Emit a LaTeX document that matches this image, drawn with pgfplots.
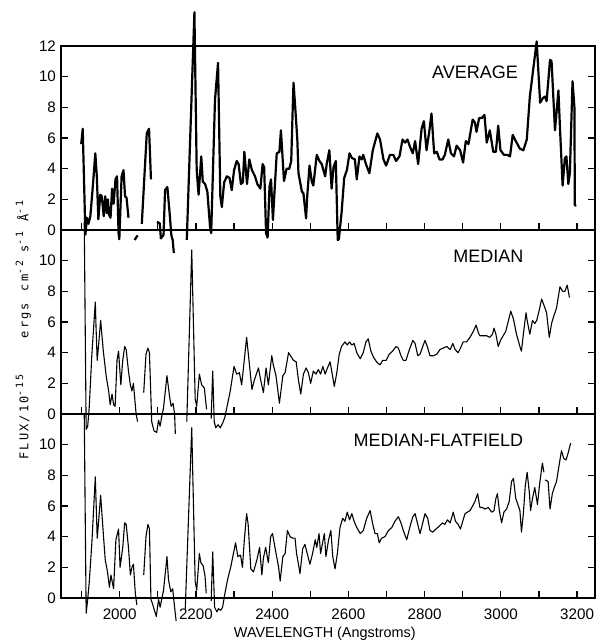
\documentclass[border=0pt]{standalone}
\usepackage{fontspec}
\setmainfont{Liberation Sans}
\newfontfamily\labfont[LetterSpace=18]{DejaVu Sans Mono}
\usepackage{pgfplots}
\pgfplotsset{compat=1.18}

\newcommand\sups[1]{\raisebox{0.8ex}{\fontsize{5}{6}\selectfont #1}}

\pgfplotsset{
  panel/.style={
    scale only axis, width=267pt, height=92pt, anchor=south west,
    xmin=1846, xmax=3247, ymin=0, ymax=12,
    clip=false, unbounded coords=jump,
    xtick={2000,2200,...,3200}, minor xtick={1900,2100,...,3100},
    xtick pos=lower, ytick pos=both, yticklabel pos=left,
    tick align=inside, major tick length=3.5pt, minor tick length=3.5pt,
    every tick/.append style={black, line width=0.6pt},
    every minor tick/.append style={black, line width=0.6pt},
    axis line style={line width=0.7pt},
    tick label style={font=\fontsize{7.6}{9}\selectfont},
    /pgf/number format/assume math mode=true,
    /pgf/number format/1000 sep={},
    yticklabel style={xshift=1pt},
    xticklabel style={yshift=-2pt},
  },
  spec/.style={black, line width=0.55pt, line join=round, mark=none},
}

\begin{document}
\begin{tikzpicture}
\useasboundingbox (0,0) rectangle (298pt,320pt);

% bottom panel: median-flatfield
\begin{axis}[panel, at={(30.5pt,21pt)}, ytick={0,2,...,10},
  xlabel={WAVELENGTH (Angstroms)},
  xlabel style={at={(axis description cs:0.494,0)}, anchor=base, yshift=-19.5pt,
    font=\fontsize{7.2}{9}\selectfont}]
\addplot[spec] coordinates {
(1907,12.0) (1912,-1.0) (1916,-0.1) (1920,1.0) (1927,3.6) (1936,7.9) (1941,3.9)
(1945,5.1) (1950,6.7) (1957,4.2) (1962,2.5) (1968,1.7) (1973,0.7) (1977,1.5)
(1984,0.6) (1990,3.8) (1997,4.5) (2001,2.0) (2008,3.3) (2013,4.9) (2017,4.8)
(2023,3.3) (2028,1.5) (2032,2.0) (2036,2.2) (2041,0.3) (2045,-0.45)
(2050,nan)
(2063,1.5) (2069,4.0) (2074,4.8) (2078,4.5) (2082,-0.1) (2085,-0.3) (2096,-1.2)
(2102,-0.1) (2106,-0.6) (2115,0.5) (2124,2.7) (2128,1.2) (2134,0.4) (2139,0.6)
(2144,-0.6) (2148,-1.5)
(2160,nan)
(2172,-0.7) (2189,11.1) (2198,1.1) (2202,0.5) (2209,2.9) (2213,2.3) (2219,2.1)
(2224,1.4) (2227,0.3)
(2234,nan)
(2240,-0.2) (2244,3.0) (2249,-0.6) (2255,-0.9) (2259,-0.7) (2265,-0.8) (2270,-0.6)
(2276,0.3) (2283,1.2) (2292,2.1) (2304,3.6) (2310,2.7) (2317,2.8) (2322,2.0)
(2327,3.8) (2333,5.5) (2337,4.8) (2344,1.9) (2351,1.7) (2360,2.5) (2367,3.3)
(2373,1.5) (2377,2.6) (2383,3.3) (2390,2.3) (2396,4.0) (2401,4.2) (2408,3.2)
(2417,2.0) (2421,1.1) (2428,2.7) (2434,2.9) (2440,4.4) (2447,4.0) (2454,3.9)
(2460,3.9) (2464,2.9) (2469,2.2) (2473,1.6) (2480,3.2) (2486,3.5) (2492,2.9)
(2499,2.2) (2506,2.9) (2513,3.8) (2517,3.3) (2523,4.2) (2527,2.9) (2533,3.7)
(2537,4.2) (2541,2.7) (2548,3.8) (2554,4.4) (2559,2.7) (2565,1.9) (2571,2.9)
(2578,4.6) (2585,5.2) (2591,5.0) (2597,5.6) (2603,5.1) (2609,5.5) (2615,5.0)
(2622,4.6) (2631,4.2) (2639,4.4) (2648,5.2) (2657,5.7) (2664,4.8) (2670,4.2)
(2676,4.2) (2681,3.6) (2687,3.9) (2696,4.0) (2705,4.4) (2714,4.6) (2722,5.0)
(2731,5.3) (2738,4.9) (2744,4.4) (2753,3.8) (2762,4.7) (2769,5.3) (2775,5.5)
(2782,4.8) (2788,4.2) (2795,4.9) (2801,5.5) (2808,5.2) (2814,4.4) (2821,4.3)
(2830,4.5) (2839,4.7) (2847,4.9) (2853,4.8) (2860,5.1) (2867,4.9) (2875,5.6)
(2881,5.0) (2888,4.8) (2894,4.5) (2900,5.0) (2906,5.5) (2912,5.6) (2919,5.7)
(2926,6.0) (2932,6.3) (2939,6.8) (2945,5.9) (2952,5.9) (2958,5.8) (2967,5.9)
(2976,5.6) (2982,5.7) (2987,6.5) (2991,6.8) (2996,5.7) (3002,4.9) (3008,5.6)
(3015,5.8) (3022,6.3) (3028,7.6) (3033,7.8) (3039,6.5) (3046,6.0) (3050,5.7)
(3054,4.3) (3059,5.5) (3064,7.3) (3069,8.2) (3075,6.8) (3078,5.7) (3083,6.5)
(3089,7.2) (3096,6.1) (3102,7.5) (3109,8.8) (3113,8.2)
(3115,nan)
(3116,7.7) (3124,7.6) (3129,5.8) (3135,6.8) (3140,7.2) (3146,7.6) (3153,8.7)
(3159,9.6) (3165,9.1) (3171,9.0) (3177,9.5) (3183,10.1)
};
\node[font=\fontsize{9}{10}\selectfont] at (axis cs:2836,10.3) {MEDIAN-FLATFIELD};
\end{axis}

% middle panel: median
\begin{axis}[panel, at={(30.5pt,113pt)}, ytick={0,2,...,10}, xticklabels={}]
\addplot[spec] coordinates {
(1907,12.5) (1912,-1.0) (1916,-0.8) (1920,0.4) (1927,3.9) (1936,7.3) (1938,5.6)
(1941,3.5) (1945,4.6) (1950,6.1) (1957,4.1) (1965,2.4) (1971,1.5) (1975,0.6)
(1980,1.3) (1984,0.6) (1988,0.5) (1993,3.5) (1997,4.1) (2003,1.9) (2008,3.5)
(2013,4.4) (2017,4.2) (2023,2.8) (2028,1.9) (2032,1.5) (2036,2.0) (2043,0)
(2047,-0.5)
(2055,nan)
(2063,1.4) (2069,3.9) (2074,4.3) (2078,4.0) (2084,-0.5) (2090,-1.1) (2097,-1.2)
(2102,-0.4) (2106,-0.8) (2110,-0.2) (2115,0.4) (2124,2.5) (2131,1.1) (2135,0.5)
(2140,0.7) (2144,0) (2146,-1.3)
(2160,nan)
(2176,-0.5) (2189,10.7) (2198,1.0) (2202,0.5) (2209,2.6) (2215,1.9) (2222,1.7)
(2228,0.3)
(2234,nan)
(2240,-0.3) (2244,2.8) (2248,-0.5) (2252,-0.9) (2258,-0.7) (2264,-0.9) (2270,-0.6)
(2276,-0.2) (2281,0.4) (2290,1.5) (2300,3.1) (2307,2.6) (2314,2.7) (2320,1.9)
(2333,5.0) (2347,1.6) (2353,2.2) (2364,3.0) (2370,2.2) (2377,1.4) (2384,3.0)
(2390,1.9) (2399,3.8) (2403,3.2) (2410,2.5) (2419,0.7) (2428,2.5) (2434,2.7)
(2443,4.0) (2456,3.5) (2463,3.4) (2469,2.2) (2475,1.3) (2482,2.6) (2489,3.0)
(2495,2.7) (2501,2.0) (2508,2.8) (2515,2.6) (2521,2.9) (2527,2.6) (2533,3.1)
(2539,2.6) (2545,3.0) (2552,3.4) (2559,2.4) (2563,1.8) (2569,2.6) (2576,3.9)
(2582,4.4) (2591,4.7) (2597,4.5) (2603,4.7) (2609,4.5) (2615,4.6) (2622,4.0)
(2631,3.6) (2639,4.0) (2646,4.7) (2652,4.9) (2659,4.1) (2666,3.7) (2674,3.4)
(2683,3.2) (2690,3.5) (2699,3.5) (2707,3.9) (2716,4.1) (2725,4.4) (2731,4.3)
(2738,3.8) (2744,3.5) (2751,3.5) (2760,4.2) (2769,4.8) (2775,4.6) (2782,3.8)
(2788,3.9) (2795,4.4) (2801,4.8) (2807,4.4) (2814,3.8) (2823,3.8) (2832,3.9)
(2840,4.2) (2849,4.3) (2858,4.4) (2867,4.2) (2874,4.6) (2880,4.2) (2888,4.0)
(2894,4.3) (2901,4.7) (2910,4.7) (2919,5.0) (2928,5.4) (2935,5.8) (2941,5.3)
(2945,5.1) (2954,5.1) (2963,5.1) (2971,5.0) (2978,5.2) (2982,5.6) (2987,5.2)
(2993,4.4) (2999,4.8) (3006,5.1) (3013,5.4) (3020,6.1) (3026,6.7) (3033,6.2)
(3041,5.2) (3050,4.4) (3054,4.1) (3059,5.2) (3066,6.6) (3069,6.1) (3076,5.2)
(3083,6.1) (3089,5.9) (3094,6.1) (3101,6.8) (3107,7.5) (3113,7.1) (3120,6.6)
(3127,5.0) (3133,5.9) (3139,6.4) (3146,6.9) (3155,8.3) (3162,8.0) (3168,8.0)
(3174,8.4) (3180,7.6)
};
\node[font=\fontsize{9}{10}\selectfont] at (axis cs:2967,10.3) {MEDIAN};
\end{axis}

% top panel: average
\begin{axis}[panel, at={(30.5pt,205pt)}, ytick={0,2,...,12}, xticklabels={}]
\addplot[spec, line width=1.1pt] coordinates {
(1899,5.6) (1903,6.6) (1910,-0.3) (1914,0.8) (1918,0.4) (1923,0.9) (1930,3.0)
(1936,5.0) (1940,3.5) (1944,0.7) (1949,2.3) (1953,2.2) (1958,0.9) (1962,2.2)
(1966,1.1) (1969,2.0) (1972,1.0) (1976,0.8) (1980,2.7) (1984,1.7) (1989,3.3)
(1993,3.5) (1997,-0.2) (1999,-0.6) (2005,3.5) (2010,3.9) (2014,2.2) (2018,2.1)
(2023,0.8)
(2030,nan)
(2039,-0.65) (2047,-0.35)
(2050,nan)
(2058,0.4) (2071,6.3) (2077,6.6) (2082,3.3)
(2090,nan)
(2098,0.54) (2105,0.43) (2108,-0.55) (2115,-0.33) (2119,2.6) (2125,2.8)
(2131,1.1) (2135,-0.2) (2136,-0.4) (2139,-0.65) (2142,-1.5)
(2160,nan)
(2176,-0.65) (2196,14.2) (2202,3.9) (2207,2.3) (2214,4.8) (2218,3.15) (2224,3.0)
(2230,2.5) (2237,0.2) (2240,-0.2) (2250,8.5) (2258,10.9) (2264,2.2) (2268,1.5)
(2274,3.1) (2281,3.5) (2288,3.4) (2294,2.6) (2300,3.9) (2307,4.5) (2312,4.3)
(2318,3.0) (2323,3.1) (2327,5.1) (2334,3.0) (2340,4.6) (2347,3.9) (2355,3.5)
(2361,3.0) (2369,2.7) (2375,4.3) (2379,4.1) (2384,-0.2) (2388,-0.5) (2393,2.8)
(2397,3.3) (2402,0.65) (2408,3.3) (2412,5.0) (2419,5.1) (2423,6.5) (2431,3.2)
(2438,4.0) (2445,4.0) (2450,4.5) (2454,8.0) (2456,9.6) (2460,8.2) (2466,5.9)
(2469,3.7) (2478,2.5) (2482,2.4) (2489,0.76) (2492,2.2) (2498,4.2) (2504,3.15)
(2508,2.9) (2517,4.9) (2524,4.5) (2530,4.3) (2539,3.5) (2543,4.3) (2550,5.2)
(2556,2.7) (2561,4.1) (2567,4.5) (2572,-0.65) (2575,-0.6) (2582,1.1) (2589,3.4)
(2596,3.9) (2603,5.0) (2609,4.7) (2617,4.6) (2622,3.3) (2629,4.8) (2635,4.6)
(2639,4.9) (2646,4.3) (2655,3.7) (2664,5.2) (2676,6.3) (2683,5.9) (2692,4.6)
(2699,4.2) (2709,4.9) (2718,4.9) (2725,4.5) (2734,4.8) (2742,5.9) (2749,5.7)
(2755,5.9) (2762,5.4) (2769,5.0) (2775,5.8) (2783,4.3) (2792,6.6) (2798,7.1)
(2805,5.2) (2812,6.4) (2818,7.6) (2825,5.0) (2832,5.1) (2839,4.6) (2847,4.6)
(2853,4.9) (2862,5.9) (2869,5.0) (2877,4.8) (2884,5.5) (2893,5.2) (2901,4.4)
(2908,5.8) (2915,5.6) (2926,7.2) (2932,7.0) (2936,6.4) (2943,7.3) (2950,7.3)
(2957,7.5) (2963,5.7) (2971,6.5) (2980,5.1) (2987,5.1) (2993,6.8) (2999,5.2)
(3008,4.9) (3017,4.9) (3024,4.8) (3031,6.2) (3037,5.9) (3050,5.3) (3059,5.2)
(3068,5.9) (3076,8.7) (3094,12.3) (3103,8.3) (3110,8.6) (3116,8.7) (3120,8.4)
(3129,11.1) (3133,11.0) (3142,6.5) (3151,9.1) (3155,6.7) (3162,2.9) (3168,4.7)
(3172,4.8) (3177,3.0) (3181,3.7) (3188,9.7) (3193,8.0) (3194,1.6) (3198,1.6)
};
\node[font=\fontsize{9}{10}\selectfont] at (axis cs:2932,10.3) {AVERAGE};
\end{axis}

\node[rotate=90, anchor=base, font=\labfont\fontsize{6}{7}\selectfont]
  at (14.2pt,155pt)
  {FLUX/10\sups{-15}\hspace{18pt}ergs\hspace{6pt}cm\sups{-2}\hspace{4pt}s\sups{-1}\hspace{5pt}Å\sups{-1}};
\end{tikzpicture}
\end{document}
